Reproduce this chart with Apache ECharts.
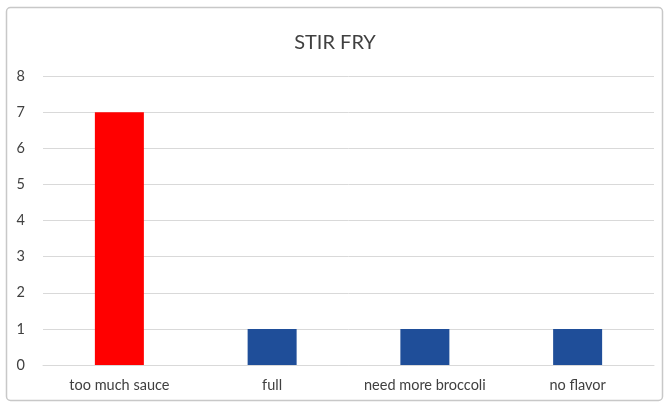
<!DOCTYPE html>
<html>
<head>
<meta charset="utf-8">
<script src="https://cdn.jsdelivr.net/npm/echarts@6/dist/echarts.min.js"></script>
<style>
  html, body { margin: 0; padding: 0; background: #fff; }
  #chart { width: 670px; height: 406px; }
</style>
</head>
<body>
<div id="chart"></div>
<script>
// Stir fry feedback counts
const categories = ['too much sauce', 'full', 'need more broccoli', 'no flavor'];
const counts = [7, 1, 1, 1];
const barColors = ['#FF0000', '#1F4E99', '#1F4E99', '#1F4E99'];
const yTicks = { min: 0, max: 8, interval: 1 };

const labelFont = { color: '#404040', fontFamily: 'Lato', fontSize: 14.5 };

const chart = echarts.init(document.getElementById('chart'), null, { renderer: 'canvas' });
chart.setOption({
  animation: false,
  backgroundColor: '#ffffff',
  title: {
    text: 'STIR FRY',
    left: 'center',
    top: 28,
    textStyle: { fontFamily: 'Lato', fontWeight: 'normal', fontSize: 20, color: '#404040' }
  },
  graphic: [{
    type: 'rect',
    shape: { x: 6.5, y: 7.5, width: 656, height: 393, r: 4 },
    style: { fill: 'none', stroke: '#c8c8c8', lineWidth: 1.5 },
    silent: true
  }],
  grid: { left: 43, right: 16, top: 76, bottom: 41 },
  xAxis: {
    type: 'category',
    data: categories,
    axisLine: { show: true, lineStyle: { color: '#d9d9d9', width: 1 } },
    axisTick: { show: false },
    axisLabel: Object.assign({ margin: 13, interval: 0 }, labelFont)
  },
  yAxis: {
    type: 'value',
    min: yTicks.min,
    max: yTicks.max,
    interval: yTicks.interval,
    axisLine: { show: false },
    axisTick: { show: false },
    splitLine: { lineStyle: { color: '#d9d9d9', width: 1 } },
    axisLabel: Object.assign({ margin: 18 }, labelFont)
  },
  series: [{
    type: 'bar',
    barWidth: 49,
    data: counts.map((v, i) => ({ value: v, itemStyle: { color: barColors[i] } }))
  }]
});
</script>
</body>
</html>
